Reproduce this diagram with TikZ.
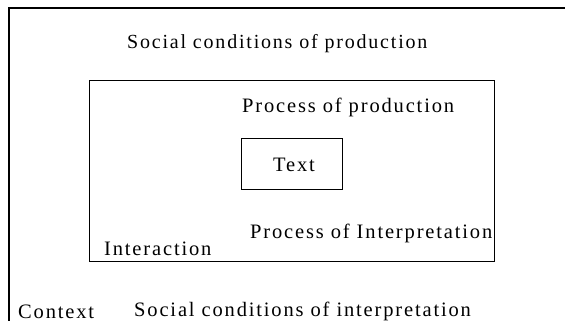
\documentclass[tikz,border=0pt]{standalone}
\usepackage{fontspec}
\setmainfont{Liberation Serif}[LetterSpace=9]
\begin{document}
\begin{tikzpicture}[x=1pt,y=-1pt,
  frame/.style={draw=black,line width=1.1pt},
  boxstyle/.style={draw=black,line width=0.9pt,inner sep=0pt},
  lbl/.style={anchor=base west,inner sep=0pt,font=\fontsize{20.5}{24}\selectfont}]
\useasboundingbox (0,0) rectangle (565,321);
% outer context frame (extends beyond the picture)
\coordinate (ctr) at (565,8);
\coordinate (ctl) at (9,8);
\coordinate (cbl) at (9,321);
\draw[frame] (ctr) -- (ctl) -- (cbl);
% inner interaction box
\node[boxstyle,minimum width=405,minimum height=181] (inter) at (291.5,170.5) {};
% text box
\node[boxstyle,minimum width=101,minimum height=51] (textbox) at (291.5,163.5) {};
\node[lbl] (textlbl) at (273,171) {Text};
\node[lbl,font=\fontsize{20}{24}\selectfont] (scp) at (127,49) {Social conditions of production};
\node[lbl] (pp) at (242,113) {Process of production};
\node[lbl] (pi) at (250,238) {Process of Interpretation};
\node[lbl] (ia) at (104,255) {Interaction};
\node[lbl] (ctx) at (18,318) {Context};
\node[lbl] (sci) at (134,316) {Social conditions of interpretation};
\end{tikzpicture}
\end{document}
